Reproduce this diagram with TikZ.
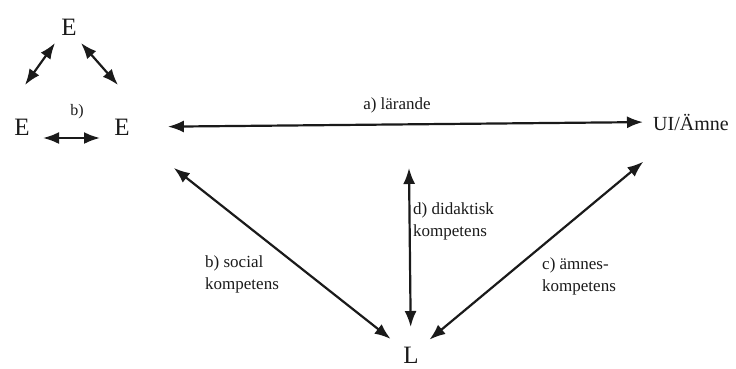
\documentclass[tikz,border=0pt]{standalone}
\usepackage{fontspec}
\setmainfont{Liberation Serif}
\usetikzlibrary{arrows.meta}
\definecolor{ink}{HTML}{1A1A1A}
\begin{document}
\begin{tikzpicture}[x=1pt,y=-1pt,
  dbl/.style={{Latex[length=16pt,width=12pt]}-{Latex[length=16pt,width=12pt]}, line width=2.2pt, draw=ink},
  big/.style={font=\fontsize{25}{27}\selectfont, inner sep=0pt, text=ink},
  mid/.style={font=\fontsize{20}{22}\selectfont, inner sep=0pt, text=ink},
  lbl/.style={font=\fontsize{17}{22}\selectfont, align=left, inner sep=0pt, text=ink}]
\useasboundingbox (0,0) rectangle (736,368);
% nodes
\node[big] (Et) at (69,27) {E};
\node[big] (El) at (22,127) {E};
\node[big] (Er) at (122,127) {E};
\node[mid, anchor=west] (UI) at (653,122) {UI/Ämne};
\node[big] (L) at (411,355) {L};
\node[lbl, font=\fontsize{16}{18}\selectfont] (bs) at (77,112) {b)};
% labels
\node[lbl] (la) at (397,105) {a) lärande};
\node[lbl, anchor=west] (lb) at (205,274) {b) social\\kompetens};
\node[lbl, anchor=west] (ld) at (413,221) {d) didaktisk\\kompetens};
\node[lbl, anchor=west] (lc) at (542,276) {c) ämnes-\\kompetens};
% small triangle connectors
\coordinate (t1a) at (55,43);
\coordinate (t1b) at (25,85);
\coordinate (t2a) at (81,43);
\coordinate (t2b) at (118,85);
\coordinate (t3a) at (43,138);
\coordinate (t3b) at (100,138);
\draw[dbl] (t1a) -- (t1b);
\draw[dbl] (t2a) -- (t2b);
\draw[dbl] (t3a) -- (t3b);
% main connectors
\draw[dbl, shorten <=38pt, shorten >=10pt] (Er.east) -- (UI.west);
\draw[dbl, shorten <=66pt, shorten >=26pt] (Er.center) -- (L.center);
\draw[dbl, shorten <=24pt, shorten >=62pt] (L.center) -- (UI.center);
\coordinate (dtop) at (409,168);
\draw[dbl, shorten <=28pt] (L.center) -- (dtop);
\end{tikzpicture}
\end{document}
